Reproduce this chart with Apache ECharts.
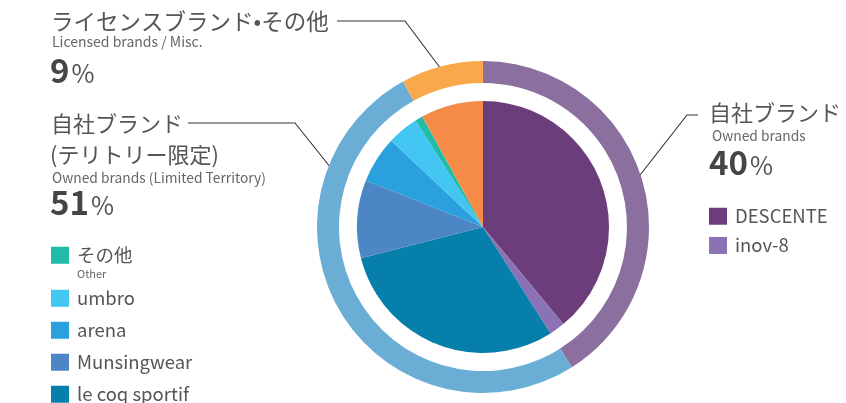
<!DOCTYPE html>
<html>
<head>
<meta charset="utf-8">
<script src="https://cdn.jsdelivr.net/npm/echarts@6/dist/echarts.min.js"></script>
<style>
html, body { margin: 0; padding: 0; background: #fff; }
#chart { width: 846px; height: 403px; }
</style>
</head>
<body>
<div id="chart"></div>
<script>
// inner pie: brands
const brandNames = ['DESCENTE', 'inov-8', 'le coq sportif', 'Munsingwear', 'arena', 'umbro', 'その他', 'ライセンス'];
const brandShares = [39, 2, 30, 10, 6, 4, 1, 8];
const brandColors = ['#6b3d7b', '#8a72b5', '#077fab', '#4d86c4', '#2aa1dc', '#43c6f2', '#21bca8', '#f48c48'];

// outer ring: brand groups
const groupNames = ['自社ブランド', '自社ブランド(テリトリー限定)', 'ライセンスブランド・その他'];
const groupShares = [41, 51, 8];
const groupColors = ['#8b6f9e', '#6aaed6', '#f9a94b'];
const groupPercents = ['40', '51', '9'];

const leftLegend = ['umbro', 'arena', 'Munsingwear', 'le coq sportif'];
const rightLegend = ['DESCENTE', 'inov-8'];

const FONT = '"Noto Sans CJK JP", "Noto Sans", sans-serif';
const TXT = '#555';

const chart = echarts.init(document.getElementById('chart'));

const title = (x, y, text, size, color) => ({
    type: 'text', x: x, y: y, silent: true,
    style: { text: text, fontSize: size, fontFamily: FONT, fill: color || TXT, verticalAlign: 'middle' }
});
const percent = (x, y, num) => ({
    type: 'text', x: x, y: y, silent: true,
    style: {
        text: '{n|' + num + '}{p|%}', fontFamily: FONT, verticalAlign: 'middle',
        rich: {
            n: { fontSize: 33, fontWeight: 'bold', fill: '#454545', fontFamily: FONT, verticalAlign: 'bottom' },
            p: { fontSize: 25, fill: '#555', fontFamily: FONT, verticalAlign: 'bottom', padding: [0, 0, 0, 2] }
        }
    }
});
const leader = (points) => ({
    type: 'polyline', silent: true,
    shape: { points: points },
    style: { stroke: '#333', lineWidth: 1.1, fill: null }
});

const legendBase = {
    orient: 'vertical',
    icon: 'rect',
    itemWidth: 18,
    itemHeight: 17,
    padding: 0,
    height: 150,
    selectedMode: false,
    textStyle: { fontSize: 18.5, lineHeight: 18, color: TXT, fontFamily: FONT, padding: [0, 0, 0, 3] }
};

const option = {
    animation: false,
    legend: [
        Object.assign({}, legendBase, { left: 51, top: 246, data: ['その他'] }),
        Object.assign({}, legendBase, { left: 51, top: 289, itemGap: 13.5, data: leftLegend }),
        Object.assign({}, legendBase, { left: 709, top: 207, itemGap: 10.7, data: rightLegend })
    ],
    series: [
        {
            type: 'pie',
            name: 'brands',
            center: [483, 227],
            radius: [0, 126],
            startAngle: 90,
            label: { show: false },
            labelLine: { show: false },
            emphasis: { disabled: true },
            data: brandNames.map((n, i) => ({ name: n, value: brandShares[i], itemStyle: { color: brandColors[i] } }))
        },
        {
            type: 'pie',
            name: 'groups',
            center: [483, 227],
            radius: [144, 166],
            startAngle: 90,
            label: { show: false },
            labelLine: { show: false },
            emphasis: { disabled: true },
            data: groupNames.map((n, i) => ({ name: n, value: groupShares[i], itemStyle: { color: groupColors[i] } }))
        }
    ],
    graphic: [
        // licensed
        title(51, 21, 'ライセンスブランド•その他', 22.5),
        title(52, 42, 'Licensed brands / Misc.', 14, '#666'),
        percent(50, 70, groupPercents[2]),
        leader([[337, 21], [405, 21], [447, 77]]),
        // owned (limited territory)
        title(51, 124, '自社ブランド', 22),
        title(50, 155, '(テリトリー限定)', 22),
        title(52, 178, 'Owned brands (Limited Territory)', 13.8, '#666'),
        percent(50, 202, groupPercents[1]),
        leader([[188, 123], [295, 123], [335, 173]]),
        // owned
        title(709, 113, '自社ブランド', 22),
        title(712, 136, 'Owned brands', 13.8, '#666'),
        percent(709, 162, groupPercents[0]),
        leader([[698, 115], [687, 115], [633, 184]]),
        // legend subtitle
        title(77, 274, 'Other', 11, '#666')
    ]
};

chart.setOption(option);
</script>
</body>
</html>
